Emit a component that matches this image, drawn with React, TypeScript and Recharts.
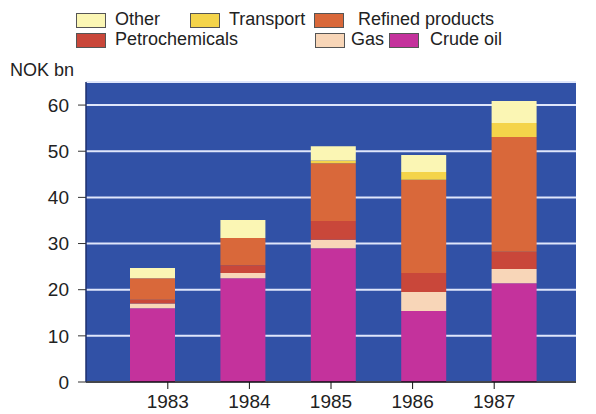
import { BarChart, Bar, XAxis, YAxis, CartesianGrid, Legend } from 'recharts';

// Norwegian petroleum export value by product, NOK bn
const years = ['1983', '1984', '1985', '1986', '1987'];
const crudeOil = [16.0, 22.5, 29.0, 15.4, 21.4];
const gas = [1.0, 1.1, 1.8, 4.1, 3.1];
const petrochemicals = [0.8, 1.7, 4.1, 4.1, 3.7];
const refinedProducts = [4.7, 5.9, 12.5, 20.2, 24.9];
const transport = [0, 0, 0.6, 1.7, 3.0];
const other = [2.2, 3.9, 3.1, 3.7, 4.8];
const yTicks = [0, 10, 20, 30, 40, 50, 60];

const series = [
    { key: 'crude', name: 'Crude oil', values: crudeOil, color: '#c4329c' },
    { key: 'gas', name: 'Gas', values: gas, color: '#f8d6b8' },
    { key: 'petro', name: 'Petrochemicals', values: petrochemicals, color: '#c9473a' },
    { key: 'refined', name: 'Refined products', values: refinedProducts, color: '#d9683a' },
    { key: 'transport', name: 'Transport', values: transport, color: '#f4d44a' },
    { key: 'other', name: 'Other', values: other, color: '#fbf6b4' },
];

const data = years.map((year, i) => {
    const row: Record<string, string | number> = { year };
    series.forEach((s) => {
        row[s.key] = s.values[i];
    });
    return row;
});

const FONT = '"Liberation Sans", Arial, sans-serif';

// legend slots: [series key, left, top]
const legendSlots: [string, number, number][] = [
    ['other', 76, 13],
    ['transport', 190, 13],
    ['refined', 314, 13],
    ['petro', 76, 33],
    ['gas', 315, 33],
    ['crude', 389, 33],
];

const LegendBlock = () => (
    <div style={{ position: 'absolute', left: 0, top: 0, width: 596, height: 60 }}>
        {legendSlots.map(([key, left, top]) => {
            const s = series.find((x) => x.key === key)!;
            const textLeft = key === 'gas' ? left + 36 : key === 'refined' ? left + 44 : key === 'crude' ? left + 41 : left + 39;
            return (
                <div key={key}>
                    <div
                        style={{
                            position: 'absolute',
                            left,
                            top,
                            width: 30,
                            height: 15,
                            background: s.color,
                            border: '1px solid #555',
                            boxSizing: 'border-box',
                        }}
                    />
                    <div
                        style={{
                            position: 'absolute',
                            left: textLeft,
                            top: top - 4,
                            fontFamily: FONT,
                            fontSize: 18,
                            color: '#222',
                            whiteSpace: 'nowrap',
                        }}>
                        {s.name}
                    </div>
                </div>
            );
        })}
    </div>
);

const App = () => {
    return (
        <div style={{ position: 'absolute', left: 0, top: 0, width: 596, height: 414, background: 'white' }}>
            <BarChart
                width={596}
                height={414}
                data={data}
                margin={{ top: 82, right: 20, bottom: 0, left: 46 }}
                barCategoryGap={0}>
                <CartesianGrid
                    vertical={false}
                    fill="#3151a6"
                    fillOpacity={1}
                    stroke="#dfe6fb"
                    strokeWidth={2}
                    yAxisId="val"
                    xAxisId="bars"
                />
                <XAxis
                    xAxisId="bars"
                    dataKey="year"
                    hide
                    height={0}
                    padding={{ left: 21, right: 17 }}
                />
                <XAxis
                    xAxisId="labels"
                    dataKey="year"
                    height={32}
                    padding={{ left: 41, right: 41 }}
                    axisLine={{ stroke: '#111', strokeWidth: 1.5 }}
                    tickLine={{ stroke: '#111' }}
                    tickSize={7}
                    tickMargin={6}
                    tick={{ fill: '#222', fontSize: 19, fontFamily: FONT }}
                />
                <XAxis
                    xAxisId="top"
                    dataKey="year"
                    orientation="top"
                    height={0}
                    tick={false}
                    tickLine={false}
                    axisLine={{ stroke: '#1c2f6e', strokeWidth: 1.5 }}
                />
                <YAxis
                    yAxisId="val"
                    width={40}
                    domain={[0, 65]}
                    ticks={yTicks}
                    allowDataOverflow
                    axisLine={{ stroke: '#1c2f6e', strokeWidth: 1.5 }}
                    tickLine={{ stroke: '#333' }}
                    tickSize={8}
                    tickMargin={9}
                    tick={{ fill: '#222', fontSize: 19, fontFamily: FONT }}
                />
                <YAxis
                    yAxisId="right"
                    orientation="right"
                    width={0}
                    domain={[0, 65]}
                    tick={false}
                    tickLine={false}
                    axisLine={{ stroke: '#1c2f6e', strokeWidth: 1.5 }}
                />
                {series.map((s) => (
                    <Bar
                        key={s.key}
                        dataKey={s.key}
                        name={s.name}
                        stackId="exports"
                        xAxisId="bars"
                        yAxisId="val"
                        fill={s.color}
                        barSize={45}
                        isAnimationActive={false}
                    />
                ))}
                <Legend content={() => <LegendBlock />} wrapperStyle={{ position: 'absolute', left: 0, top: 0 }} />
            </BarChart>
            <div
                style={{
                    position: 'absolute',
                    left: 10,
                    top: 60,
                    fontFamily: FONT,
                    fontSize: 18,
                    color: '#222',
                }}>
                NOK bn
            </div>
        </div>
    );
};

export default App;
